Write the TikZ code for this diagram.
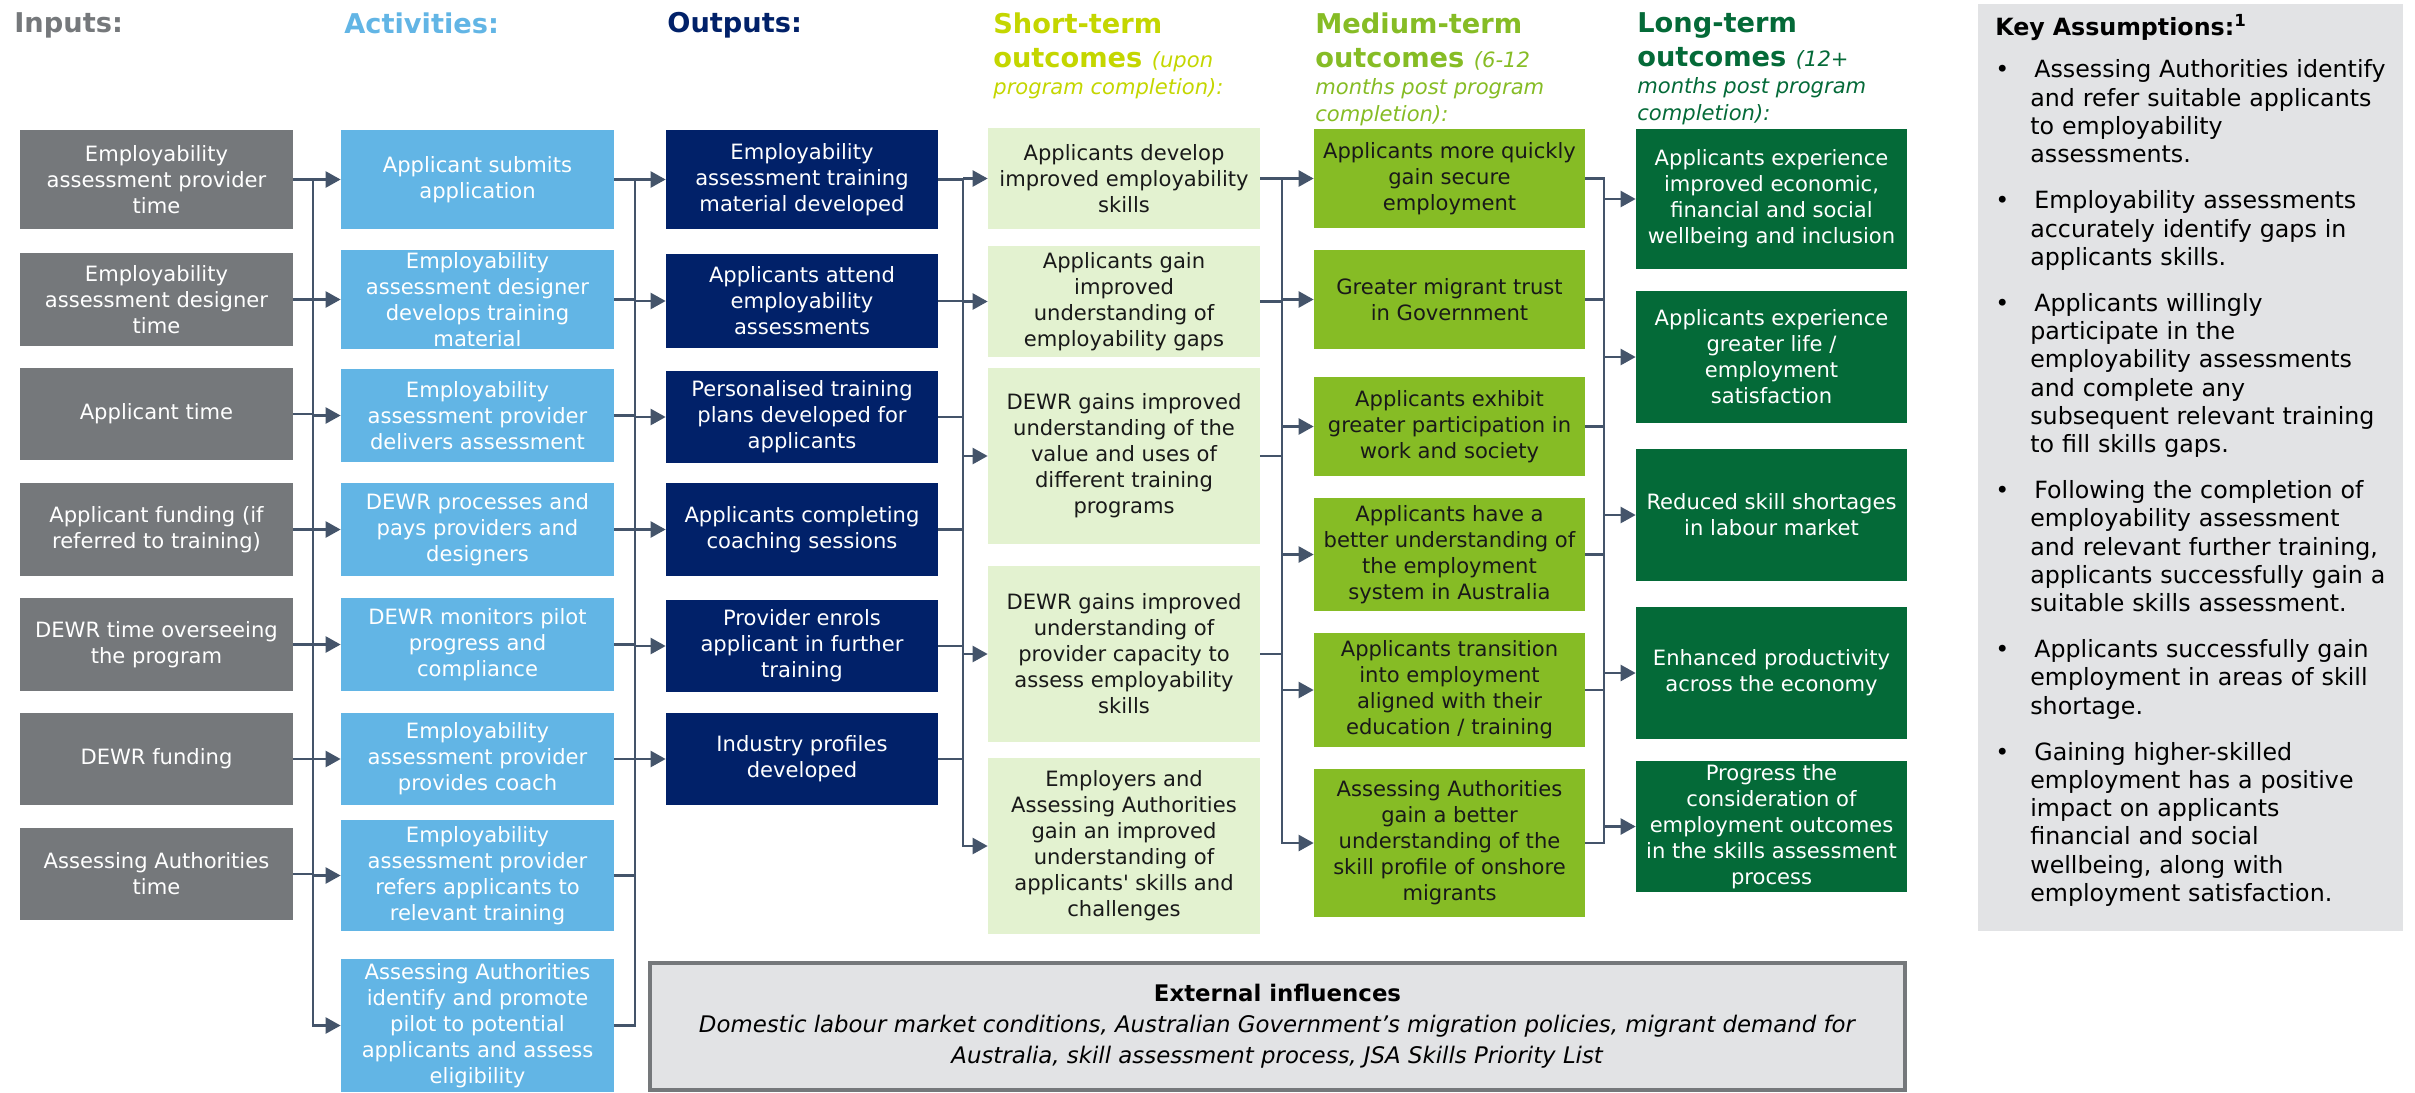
\documentclass[tikz,border=0pt]{standalone}
\usepackage{fontspec}
\setmainfont{DejaVu Sans}
\usepackage{xcolor}
\usetikzlibrary{arrows.meta,positioning}
\definecolor{inpgray}{HTML}{75787B}
\definecolor{actblue}{HTML}{62B5E5}
\definecolor{outnavy}{HTML}{012169}
\definecolor{stlime}{HTML}{C4D600}
\definecolor{stfill}{HTML}{E3F2D0}
\definecolor{mtgreen}{HTML}{86BC25}
\definecolor{ltgreen}{HTML}{046A38}
\definecolor{linkcol}{HTML}{44546A}
\definecolor{panel}{HTML}{E2E3E5}
\newcommand{\hdnote}[1]{{\mdseries\itshape\fontsize{12}{14}\selectfont #1}}
\newcommand{\keylabel}[1]{#1\hfil}

\begin{document}
\begin{tikzpicture}[x=0.2mm, y=-0.2mm,
  box/.style={align=center, inner sep=0pt, minimum width=54.4mm,
              font=\fontsize{12}{14.8}\selectfont},
  inp/.style={box, fill=inpgray, text=white, minimum width=54.6mm},
  act/.style={box, fill=actblue, text=white, minimum width=54.6mm},
  outp/.style={box, fill=outnavy, text=white},
  st/.style={box, fill=stfill, text=black!90},
  mt/.style={box, fill=mtgreen, text=black!90, minimum width=54.2mm},
  lt/.style={box, fill=ltgreen, text=white, minimum width=54.2mm},
  hd/.style={anchor=north west, align=left, inner sep=0pt,
             font=\fontsize{15.5}{19.4}\selectfont\bfseries},
  ln/.style={draw=linkcol, line width=1.4pt},
  ar/.style={ln, -{Triangle[length=3mm, width=3.2mm]}}
]
\useasboundingbox (0,0) rectangle (2415,1092);

% ---- Column headings ---------------------------------------------------
\node[hd, text=inpgray] (hin) at (14,12) {Inputs:};
\node[hd, text=actblue] (hac) at (344,12) {Activities:};
\node[hd, text=outnavy] (hop) at (667,12) {Outputs:};
\node[hd, text=stlime] (hst) at (993,12)
  {Short-term\\outcomes \hdnote{(upon}\\[-4pt]\hdnote{program completion):}};
\node[hd, text=mtgreen] (hmt) at (1315,12)
  {Medium-term\\outcomes \hdnote{(6-12}\\[-4pt]\hdnote{months post program}\\[-4pt]\hdnote{completion):}};
\node[hd, text=ltgreen] (hlt) at (1637,12)
  {Long-term\\outcomes \hdnote{(12+}\\[-4pt]\hdnote{months post program}\\[-4pt]\hdnote{completion):}};

% ---- Inputs ------------------------------------------------------------
\node[inp, minimum height=19.8mm] (in1) at (156.5,179.5) {Employability\\assessment provider\\time};
\node[inp, minimum height=18.6mm] (in2) at (156.5,299.5) {Employability\\assessment designer\\time};
\node[inp, minimum height=18.4mm] (in3) at (156.5,414)   {Applicant time};
\node[inp, minimum height=18.6mm] (in4) at (156.5,529.5) {Applicant funding (if\\referred to training)};
\node[inp, minimum height=18.6mm] (in5) at (156.5,644.5) {DEWR time overseeing\\the program};
\node[inp, minimum height=18.4mm] (in6) at (156.5,759)   {DEWR funding};
\node[inp, minimum height=18.4mm] (in7) at (156.5,874)   {Assessing Authorities\\time};

% ---- Activities --------------------------------------------------------
\node[act, minimum height=19.8mm] (ac1) at (477.5,179.5) {Applicant submits\\application};
\node[act, minimum height=19.8mm] (ac2) at (477.5,299.5) {Employability\\assessment designer\\develops training\\material};
\node[act, minimum height=18.6mm] (ac3) at (477.5,415.5) {Employability\\assessment provider\\delivers assessment};
\node[act, minimum height=18.6mm] (ac4) at (477.5,529.5) {DEWR processes and\\pays providers and\\designers};
\node[act, minimum height=18.6mm] (ac5) at (477.5,644.5) {DEWR monitors pilot\\progress and\\compliance};
\node[act, minimum height=18.4mm] (ac6) at (477.5,759)   {Employability\\assessment provider\\provides coach};
\node[act, minimum height=22.2mm] (ac7) at (477.5,875.5) {Employability\\assessment provider\\refers applicants to\\relevant training};
\node[act, minimum height=26.6mm] (ac8) at (477.5,1025.5) {Assessing Authorities\\identify and promote\\pilot to potential\\applicants and assess\\eligibility};

% ---- Outputs -----------------------------------------------------------
\node[outp, minimum height=19.8mm] (op1) at (802,179.5) {Employability\\assessment training\\material developed};
\node[outp, minimum height=18.8mm] (op2) at (802,301)   {Applicants attend\\employability\\assessments};
\node[outp, minimum height=18.4mm] (op3) at (802,417)   {Personalised training\\plans developed for\\applicants};
\node[outp, minimum height=18.6mm] (op4) at (802,529.5) {Applicants completing\\coaching sessions};
\node[outp, minimum height=18.4mm] (op5) at (802,646)   {Provider enrols\\applicant in further\\training};
\node[outp, minimum height=18.4mm] (op6) at (802,759)   {Industry profiles\\developed};

% ---- Short-term outcomes -----------------------------------------------
\node[st, minimum height=20.2mm] (st1) at (1124,178.5) {Applicants develop\\improved employability\\skills};
\node[st, minimum height=22.2mm] (st2) at (1124,301.5) {Applicants gain\\improved\\understanding of\\employability gaps};
\node[st, minimum height=35.2mm] (st3) at (1124,456)   {DEWR gains improved\\understanding of the\\value and uses of\\different training\\programs};
\node[st, minimum height=35.2mm] (st4) at (1124,654)   {DEWR gains improved\\understanding of\\provider capacity to\\assess employability\\skills};
\node[st, minimum height=35.2mm] (st5) at (1124,846)   {Employers and\\Assessing Authorities\\gain an improved\\understanding of\\applicants\textquotesingle{} skills and\\challenges};

% ---- Medium-term outcomes ----------------------------------------------
\node[mt, minimum height=19.8mm] (mt1) at (1449.5,178.5) {Applicants more quickly\\gain secure\\employment};
\node[mt, minimum height=19.8mm] (mt2) at (1449.5,299.5) {Greater migrant trust\\in Government};
\node[mt, minimum height=19.8mm] (mt3) at (1449.5,426.5) {Applicants exhibit\\greater participation in\\work and society};
\node[mt, minimum height=22.6mm] (mt4) at (1449.5,554.5) {Applicants have a\\better understanding of\\the employment\\system in Australia};
\node[mt, minimum height=22.8mm] (mt5) at (1449.5,690)   {Applicants transition\\into employment\\aligned with their\\education / training};
\node[mt, minimum height=29.6mm] (mt6) at (1449.5,843)   {Assessing Authorities\\gain a better\\understanding of the\\skill profile of onshore\\migrants};

% ---- Long-term outcomes ------------------------------------------------
\node[lt, minimum height=28mm]   (lt1) at (1771.5,199)   {Applicants experience\\improved economic,\\financial and social\\wellbeing and inclusion};
\node[lt, minimum height=26.4mm] (lt2) at (1771.5,357)   {Applicants experience\\greater life /\\employment\\satisfaction};
\node[lt, minimum height=26.4mm] (lt3) at (1771.5,515)   {Reduced skill shortages\\in labour market};
\node[lt, minimum height=26.4mm] (lt4) at (1771.5,673)   {Enhanced productivity\\across the economy};
\node[lt, minimum height=26.2mm] (lt5) at (1771.5,826.5) {Progress the\\consideration of\\employment outcomes\\in the skills assessment\\process};

% ---- Flow --------------------------------------------------------------
\coordinate (b1) at (313,0);
\coordinate (b2) at (635,0);
\coordinate (b3) at (963,0);
\coordinate (b4) at (1282,0);
\coordinate (b5) at (1604,0);
\foreach \i in {1,...,7} \draw[ln] (in\i.east) -- (in\i.east -| b1);
\foreach \i in {1,...,7} \draw[ar] (ac\i.west -| b1) -- (ac\i.west);
\draw[ar] (ac1.west -| b1) |- (ac8.west);
\foreach \i in {1,...,7} \draw[ln] (ac\i.east) -- (ac\i.east -| b2);
\draw[ln] (ac8.east) -| (ac1.east -| b2);
\foreach \i in {1,...,6} \draw[ar] (op\i.west -| b2) -- (op\i.west);
\foreach \i in {1,...,6} \draw[ln] (op\i.east) -- (op\i.east -| b3);
\foreach \i in {1,...,4} \draw[ar] (st\i.west -| b3) -- (st\i.west);
\draw[ar] (op1.east -| b3) |- (st5.west);
\foreach \i in {1,...,4} \draw[ln] (st\i.east) -- (st\i.east -| b4);
\foreach \i in {1,...,5} \draw[ar] (mt\i.west -| b4) -- (mt\i.west);
\draw[ar] (st1.east -| b4) |- (mt6.west);
\draw[ln] (mt1.east) -| (mt6.east -| b5) -- (mt6.east);
\foreach \i in {2,...,5} \draw[ln] (mt\i.east) -- (mt\i.east -| b5);
\foreach \i in {1,...,5} \draw[ar] (lt\i.west -| b5) -- (lt\i.west);

% ---- External influences -----------------------------------------------
\node[draw=inpgray, line width=0.8mm, fill=panel, minimum width=251mm,
      minimum height=25.4mm, align=center, inner sep=0pt,
      font=\fontsize{13}{17.6}\selectfont] (ext) at (1277.5,1026.5)
  {\textbf{External influences}\\
   \textit{Domestic labour market conditions, Australian Government’s migration policies, migrant demand for}\\
   \textit{Australia, skill assessment process, JSA Skills Priority List}};

% ---- Key assumptions ---------------------------------------------------
\node[fill=panel, minimum width=85mm, minimum height=185.4mm, inner sep=0pt]
  (key) at (2190.5,467.5) {};
\node[anchor=north west, inner sep=0pt, text width=80mm,
      font=\fontsize{13.5}{16.1}\selectfont] (keytxt) at (1995,14)
  {\raggedright\textbf{Key Assumptions:\textsuperscript{1}}
   \begin{list}{\textbullet}{\setlength{\leftmargin}{7mm}\setlength{\labelwidth}{2mm}%
     \setlength{\labelsep}{5mm}\setlength{\itemsep}{10pt}\setlength{\parsep}{0pt}%
     \setlength{\topsep}{8pt}\setlength{\partopsep}{0pt}%
     \let\makelabel\keylabel}
   \item Assessing Authorities identify\\and refer suitable applicants\\to employability\\assessments.
   \item Employability assessments\\accurately identify gaps in\\applicants skills.
   \item Applicants willingly\\participate in the\\employability assessments\\and complete any\\subsequent relevant training\\to fill skills gaps.
   \item Following the completion of\\employability assessment\\and relevant further training,\\applicants successfully gain a\\suitable skills assessment.
   \item Applicants successfully gain\\employment in areas of skill\\shortage.
   \item Gaining higher-skilled\\employment has a positive\\impact on applicants\\financial and social\\wellbeing, along with\\employment satisfaction.
   \end{list}};
\end{tikzpicture}
\end{document}
